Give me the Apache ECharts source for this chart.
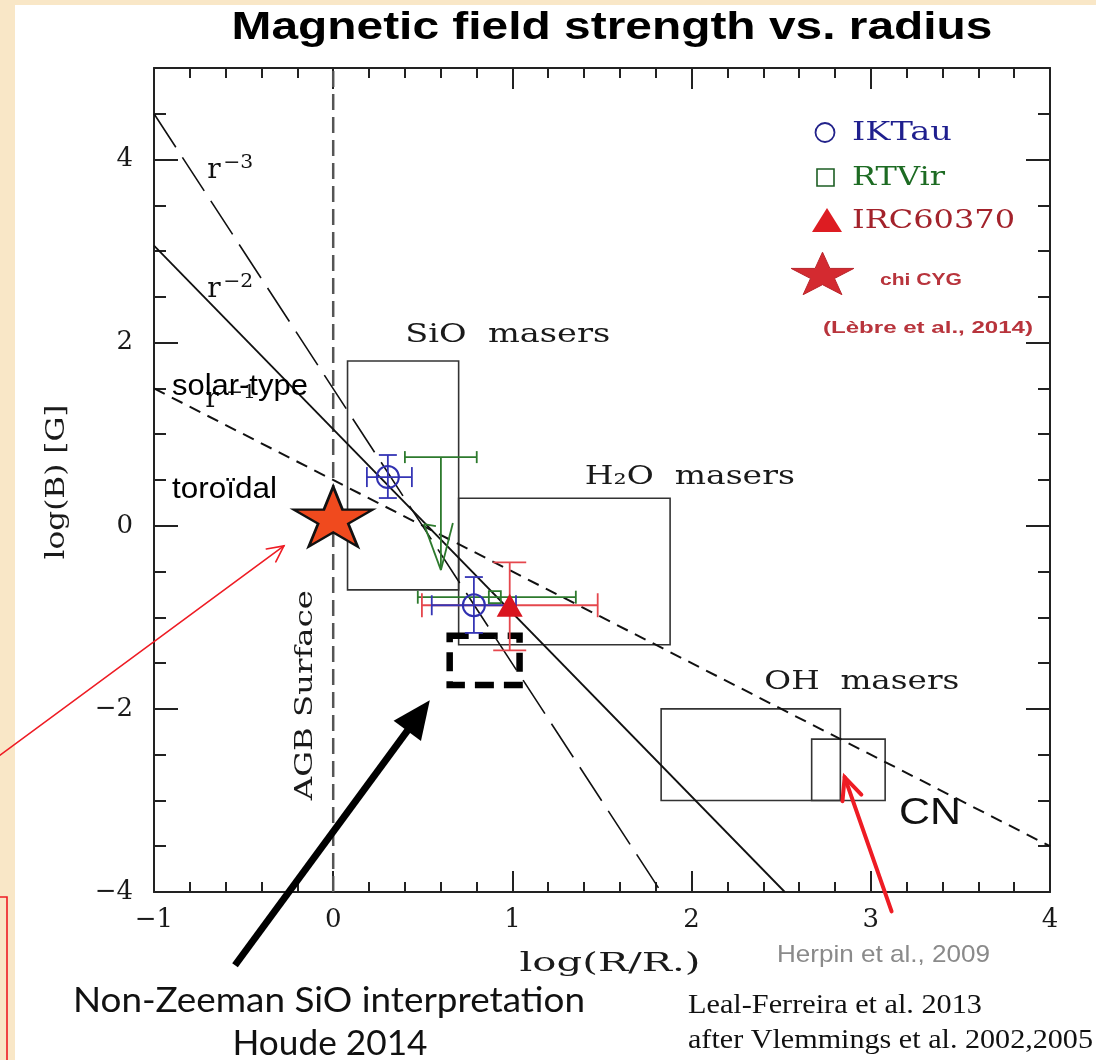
<!DOCTYPE html>
<html>
<head>
<meta charset="utf-8">
<script src="https://cdn.jsdelivr.net/npm/echarts@6/dist/echarts.min.js"></script>
<style>
html,body{margin:0;padding:0;background:#f9e7c7;}
#paper{position:absolute;left:15px;top:5px;width:1081px;height:1055px;background:#fff;}
#c{position:absolute;left:0;top:0;width:1096px;height:1060px;}
</style>
</head>
<body>
<div id="paper"></div>
<div id="c"></div>
<script>
// ---------------- data ----------------
const xTicks = [-1, 0, 1, 2, 3, 4];
const yTicks = [-4, -2, 0, 2, 4];
// power-law guide lines (end points)
const lineR3 = [[-1, 4.5], [1.83, -4]];
const lineR2 = [[-1, 3.06], [2.52, -4]];
const lineR1 = [[-1, 1.5], [4, -3.5]];
const agbSurface = [[0, -4], [0, 5]];
// maser regions [xMin, xMax, yMin, yMax]: SiO, H2O, OH, CN
const maserBoxes = [[0.08, 0.70, -0.70, 1.80], [0.70, 1.88, -1.30, 0.30], [1.83, 2.83, -3.00, -2.00], [2.67, 3.08, -3.00, -2.33]];
const houdeBox = [[0.65, 1.04, -1.74, -1.20]];
// points [x, y, xLow, xHigh, yLow, yHigh]
const ikTau = [[0.305, 0.532, 0.188, 0.439, 0.303, 0.773], [0.785, -0.868, 0.550, 1.020, -1.170, -0.560]];
const rtVir = [[0.902, -0.780, 0.472, 1.354]];
const rtVirLimit = [[0.601, 0.750, 0.400, 0.801, -0.484]]; // [x, y, xLow, xHigh, arrowTip]
const irc60370 = [[0.985, -0.868, 0.495, 1.476, -1.360, -0.400]];
const chiCyg = [[0.0, 0.10]];
// pointer arrows [xTail, yTail, xHead, yHead]
const pointerArrows = [[-1.859, -2.506, -0.275, -0.220], [-0.548, -4.800, 0.539, -1.905], [3.116, -4.211, 2.854, -2.746]];
// in-plot annotations
const plotLabels = [
  {t: 'r', x: -0.665, y: 3.877, k: 'r'},
  {t: '−3', x: -0.530, y: 3.964, k: 'sup'},
  {t: 'r', x: -0.665, y: 2.576, k: 'r'},
  {t: '−2', x: -0.530, y: 2.663, k: 'sup'},
  {t: 'r', x: -0.677, y: 1.374, k: 'r'},
  {t: '−1', x: -0.515, y: 1.451, k: 'sup'},
  {t: 'solar-type', x: -0.90, y: 1.516, k: 'sans'},
  {t: 'toroïdal', x: -0.90, y: 0.39, k: 'sans'},
  {t: 'SiO  masers', x: 0.974, y: 2.084, k: 'pg'},
  {t: 'H₂O  masers', x: 1.99, y: 0.532, k: 'pg'},
  {t: 'OH  masers', x: 2.95, y: -1.71, k: 'pg'},
  {t: 'CN', x: 3.33, y: -3.15, k: 'cn'},
  {t: 'AGB Surface', x: -0.152, y: -1.85, k: 'pgv'}
];

// ---------------- styles / layout ----------------
const labelLayout = [
  {}, {w: 30}, {}, {w: 30}, {}, {w: 30},
  {a: 'left', w: 136}, {a: 'left', w: 105},
  {w: 205}, {w: 210}, {w: 195}, {w: 62}, {w: 210, rot: 90}
];
const labelFonts = {
  r: ['28px "DejaVu Serif"', '#111'],
  sup: ['19px "DejaVu Serif"', '#111'],
  sans: ['29px "Liberation Sans"', '#000'],
  pg: ['26px "DejaVu Serif"', '#1a1a1a'],
  pgv: ['25px "DejaVu Serif"', '#1a1a1a'],
  cn: ['36px "Liberation Sans"', '#111']
};
const mctx = document.createElement('canvas').getContext('2d');
function textW(t, font) { mctx.font = font; return mctx.measureText(t).width; }
function fitScale(t, font, w) { return w ? w / textW(t, font) : 1; }
function textEl(t, font, fill, x, y, align, w, rotDeg) {
  return {
    type: 'text', x: x, y: y, rotation: (rotDeg || 0) * Math.PI / 180,
    scaleX: fitScale(t, font, w), silent: true, z: 60,
    style: {text: t, font: font, fill: fill, align: align || 'center', textAlign: align || 'center',
      verticalAlign: 'middle', textVerticalAlign: 'middle'}
  };
}
function starPts(cx, cy, rx, ry) {
  const pts = [];
  for (let i = 0; i < 10; i++) {
    const ang = -Math.PI / 2 + i * Math.PI / 5;
    const f = i % 2 === 0 ? 1 : 0.382;
    pts.push([cx + rx * f * Math.cos(ang), cy + ry * f * Math.sin(ang) + ry * 0.05]);
  }
  return pts;
}
const STAR = 'path://M50 0 L61.23 34.55 L97.55 34.55 L68.17 55.9 L79.39 90.45 L50 69.1 L20.61 90.45 L31.83 55.9 L2.45 34.55 L38.77 34.55 Z';
const fmtNum = v => (v < 0 ? '−' + Math.abs(v) : String(v));
const AX = '#222';
const tickFont = {fontFamily: 'DejaVu Serif', fontSize: 26, color: '#1a1a1a'};

function xAxisDef(pos, interval, len, labels, line) {
  return {
    type: 'value', position: pos, min: -1, max: 4, interval: interval,
    axisLine: {show: line, onZero: false, lineStyle: {color: AX, width: 2}},
    axisTick: {show: true, inside: true, length: len, lineStyle: {color: AX, width: 2}},
    axisLabel: labels ? Object.assign({show: true, margin: 15,
      formatter: v => (xTicks.indexOf(v) >= 0 ? fmtNum(v) : '')}, tickFont) : {show: false},
    splitLine: {show: false}
  };
}
function yAxisDef(pos, interval, len, labels, line) {
  return {
    type: 'value', position: pos, min: -4, max: 5, interval: interval,
    axisLine: {show: line, onZero: false, lineStyle: {color: AX, width: 2}},
    axisTick: {show: true, inside: true, length: len, lineStyle: {color: AX, width: 2}},
    axisLabel: labels ? Object.assign({show: true, margin: 21,
      formatter: v => (yTicks.indexOf(v) >= 0 ? fmtNum(v) : '')}, tickFont) : {show: false},
    splitLine: {show: false}
  };
}

function errRender(color, capX, capY, lw) {
  return function (params, api) {
    const x = api.value(0), y = api.value(1);
    const l = api.coord([api.value(2), y]), r = api.coord([api.value(3), y]);
    const st = {stroke: color, lineWidth: lw};
    const ln = (a, b, c, d) => ({type: 'line', shape: {x1: a, y1: b, x2: c, y2: d}, style: st});
    const kids = [ln(l[0], l[1], r[0], r[1]), ln(l[0], l[1] - capX / 2, l[0], l[1] + capX / 2),
      ln(r[0], r[1] - capX / 2, r[0], r[1] + capX / 2)];
    const yl = api.value(4), yh = api.value(5);
    if (isFinite(yl) && isFinite(yh)) {
      const b = api.coord([x, yl]), t = api.coord([x, yh]);
      kids.push(ln(b[0], b[1], t[0], t[1]), ln(b[0] - capY / 2, b[1], b[0] + capY / 2, b[1]),
        ln(t[0] - capY / 2, t[1], t[0] + capY / 2, t[1]));
    }
    return {type: 'group', children: kids};
  };
}
function limitRender(color, capX, lw) {
  return function (params, api) {
    const x = api.value(0), y = api.value(1);
    const l = api.coord([api.value(2), y]), r = api.coord([api.value(3), y]);
    const p = api.coord([x, y]), tip = api.coord([x, api.value(4)]);
    const st = {stroke: color, lineWidth: lw};
    const ln = (a, b, c, d) => ({type: 'line', shape: {x1: a, y1: b, x2: c, y2: d}, style: st});
    return {type: 'group', children: [
      ln(l[0], l[1], r[0], r[1]), ln(l[0], l[1] - capX / 2, l[0], l[1] + capX / 2),
      ln(r[0], r[1] - capX / 2, r[0], r[1] + capX / 2),
      ln(p[0], p[1], tip[0], tip[1]),
      ln(tip[0], tip[1], tip[0] - 17, tip[1] - 46),
      ln(tip[0], tip[1], tip[0] + 12, tip[1] - 47),
      ln(tip[0] - 17, tip[1] - 46, tip[0] - 5, tip[1] - 44)
    ]};
  };
}
function boxRender(color, lw, dash) {
  return function (params, api) {
    const a = api.coord([api.value(0), api.value(3)]);
    const b = api.coord([api.value(1), api.value(2)]);
    return {type: 'rect', shape: {x: a[0], y: a[1], width: b[0] - a[0], height: b[1] - a[1]},
      style: {fill: 'none', stroke: color, lineWidth: lw, lineDash: dash || null}};
  };
}
const arrowStyles = [
  {c: '#ee1c24', w: 1.6, fill: false, hl: 16, hw: 8},
  {c: '#000000', w: 7, fill: true, hl: 38, hw: 17},
  {c: '#ee1c24', w: 4, fill: false, hl: 22, hw: 10}
];
function arrowRender(params, api) {
  const s = arrowStyles[params.dataIndex];
  const p1 = api.coord([api.value(0), api.value(1)]);
  const p2 = api.coord([api.value(2), api.value(3)]);
  const dx = p2[0] - p1[0], dy = p2[1] - p1[1], L = Math.hypot(dx, dy);
  const ux = dx / L, uy = dy / L, px = -uy, py = ux;
  const bx = p2[0] - ux * s.hl, by = p2[1] - uy * s.hl;
  const st = {stroke: s.c, lineWidth: s.w, lineCap: 'round'};
  const kids = [];
  if (s.fill) {
    kids.push({type: 'line', shape: {x1: p1[0], y1: p1[1], x2: bx + ux * 4, y2: by + uy * 4}, style: {stroke: s.c, lineWidth: s.w}});
    kids.push({type: 'polygon', shape: {points: [[p2[0], p2[1]], [bx + px * s.hw, by + py * s.hw], [bx - px * s.hw, by - py * s.hw]]}, style: {fill: s.c}});
  } else {
    kids.push({type: 'line', shape: {x1: p1[0], y1: p1[1], x2: p2[0], y2: p2[1]}, style: st});
    kids.push({type: 'polyline', shape: {points: [[bx + px * s.hw, by + py * s.hw], [p2[0], p2[1]], [bx - px * s.hw, by - py * s.hw]]}, style: Object.assign({fill: 'none', lineJoin: 'miter'}, st)});
  }
  return {type: 'group', children: kids};
}
function labelRender(params, api) {
  const d = plotLabels[params.dataIndex];
  const lay = labelLayout[params.dataIndex] || {};
  const f = labelFonts[d.k];
  const p = api.coord([api.value(0), api.value(1)]);
  return textEl(d.t, f[0], f[1], p[0], p[1], lay.a, lay.w, lay.rot);
}

const graphics = [
  // title
  textEl('Magnetic field strength vs. radius', 'bold 38px "Liberation Sans"', '#000', 612, 29, 'center', 761),
  // axis names
  textEl('log(B) [G]', '26px "DejaVu Serif"', '#1a1a1a', 57, 482, 'center', 155, 90),
  textEl('log(R/R.)', '26px "DejaVu Serif"', '#1a1a1a', 610, 964, 'center', 181),
  // legend
  {type: 'circle', shape: {cx: 825, cy: 132.5, r: 9.5}, style: {fill: 'none', stroke: '#22228a', lineWidth: 1.8}, z: 60},
  textEl('IKTau', '26px "DejaVu Serif"', '#1f1f8e', 852, 133, 'left', 100),
  {type: 'rect', shape: {x: 817, y: 169, width: 17, height: 17}, style: {fill: 'none', stroke: '#1d5e23', lineWidth: 1.6}, z: 60},
  textEl('RTVir', '26px "DejaVu Serif"', '#1d6b23', 852, 178, 'left', 93),
  {type: 'polygon', shape: {points: [[827, 208], [842, 232], [812, 232]]}, style: {fill: '#dd1c22'}, z: 60},
  textEl('IRC60370', '26px "DejaVu Serif"', '#a3222b', 852, 221, 'left', 163),
  {type: 'polygon', shape: {points: starPts(822.5, 274.5, 33, 23.5)}, style: {fill: '#d42a30', stroke: '#b8252b', lineWidth: 1}, z: 60},
  textEl('chi CYG', 'bold 17px "Liberation Sans"', '#b8343c', 880, 280, 'left', 82),
  textEl('(Lèbre et al., 2014)', 'bold 17px "Liberation Sans"', '#b8343c', 823, 328, 'left', 210),
  // credits
  textEl('Herpin et al., 2009', '24px "Liberation Sans"', '#8a8a8a', 777, 955, 'left', 213),
  textEl('Leal-Ferreira et al. 2013', '27px "Liberation Serif"', '#111', 688, 1006, 'left', 294),
  textEl('after Vlemmings et al. 2002,2005', '27px "Liberation Serif"', '#111', 688, 1041, 'left', 405),
  textEl('Non-Zeeman SiO interpretation', '34px "Lato"', '#111', 329, 1001, 'center', 512),
  textEl('Houde 2014', '34px "Lato"', '#111', 330, 1044, 'center', 195),
  // red frame at bottom-left edge
  {type: 'rect', shape: {x: -20, y: 897, width: 27, height: 220}, style: {fill: 'none', stroke: '#ee1c24', lineWidth: 1.6}, z: 60}
];

const chart = echarts.init(document.getElementById('c'), null, {renderer: 'canvas', width: 1096, height: 1060});
chart.setOption({
  backgroundColor: 'transparent',
  animation: false,
  grid: {left: 154, right: 46, top: 68, bottom: 168, containLabel: false, outerBoundsMode: 'none'},
  xAxis: [xAxisDef('bottom', 1, 21, true, true), xAxisDef('bottom', 0.2, 10, false, false),
    xAxisDef('top', 1, 21, false, true), xAxisDef('top', 0.2, 10, false, false)],
  yAxis: [yAxisDef('left', 2, 24, true, true), yAxisDef('left', 0.5, 12, false, false),
    yAxisDef('right', 2, 24, false, true), yAxisDef('right', 0.5, 12, false, false)],
  graphic: graphics,
  series: [
    {type: 'custom', name: 'maser regions', data: maserBoxes, renderItem: boxRender('#333', 1.6), encode: {x: [0, 1], y: [2, 3]}, z: 2, silent: true},
    {type: 'custom', name: 'Houde 2014', data: houdeBox, renderItem: boxRender('#000', 6.5, [19, 10]), encode: {x: [0, 1], y: [2, 3]}, z: 2, silent: true},
    {type: 'line', name: 'AGB surface', data: agbSurface, showSymbol: false, lineStyle: {color: '#555', width: 2.5, type: [16, 7]}, z: 3, silent: true},
    {type: 'line', name: 'r-3', data: lineR3, showSymbol: false, lineStyle: {color: '#111', width: 1.6, type: [40, 12]}, z: 3, silent: true},
    {type: 'line', name: 'r-2', data: lineR2, showSymbol: false, lineStyle: {color: '#111', width: 1.8}, z: 3, silent: true},
    {type: 'line', name: 'r-1', data: lineR1, showSymbol: false, lineStyle: {color: '#111', width: 2, type: [12, 8]}, z: 3, silent: true},
    {type: 'custom', name: 'RTVir err', data: rtVir, renderItem: errRender('#2d7a2d', 13, 13, 1.8), encode: {x: 0, y: 1}, z: 4, silent: true},
    {type: 'custom', name: 'RTVir limit', data: rtVirLimit, renderItem: limitRender('#2d7a2d', 12, 1.8), encode: {x: 0, y: 1}, z: 4, silent: true},
    {type: 'custom', name: 'IRC err', data: irc60370, renderItem: errRender('#e5474d', 24, 33, 1.8), encode: {x: 0, y: 1}, z: 4, silent: true},
    {type: 'custom', name: 'IKTau err', data: ikTau, renderItem: errRender('#3535b5', 20, 18, 1.8), encode: {x: 0, y: 1}, z: 4, silent: true},
    {type: 'scatter', name: 'RTVir', data: rtVir.map(d => [d[0], d[1]]), symbol: 'rect', symbolSize: 12, itemStyle: {color: 'rgba(0,0,0,0)', borderColor: '#2d7a2d', borderWidth: 1.8, opacity: 1}, z: 5, silent: true},
    {type: 'scatter', name: 'IKTau', data: ikTau.map(d => [d[0], d[1]]), symbol: 'circle', symbolSize: 22, itemStyle: {color: 'rgba(0,0,0,0)', borderColor: '#3030b0', borderWidth: 2, opacity: 1}, z: 5, silent: true},
    {type: 'scatter', name: 'IRC60370', data: irc60370.map(d => [d[0], d[1]]), symbol: 'triangle', symbolSize: [26, 23], itemStyle: {color: '#d9141e', opacity: 1}, z: 5, silent: true},
    {type: 'scatter', name: 'chi CYG', data: chiCyg, symbol: STAR, symbolSize: [79, 60], itemStyle: {color: '#f04a1e', borderColor: '#111', borderWidth: 2.5, opacity: 1}, z: 6, silent: true},
    {type: 'custom', name: 'labels', data: plotLabels.map(d => [d.x, d.y]), renderItem: labelRender, encode: {x: 0, y: 1}, z: 7, silent: true, clip: false},
    {type: 'custom', name: 'arrows', data: pointerArrows, renderItem: arrowRender, encode: {x: [0, 2], y: [1, 3]}, z: 8, silent: true, clip: false}
  ]
});
</script>
</body>
</html>
